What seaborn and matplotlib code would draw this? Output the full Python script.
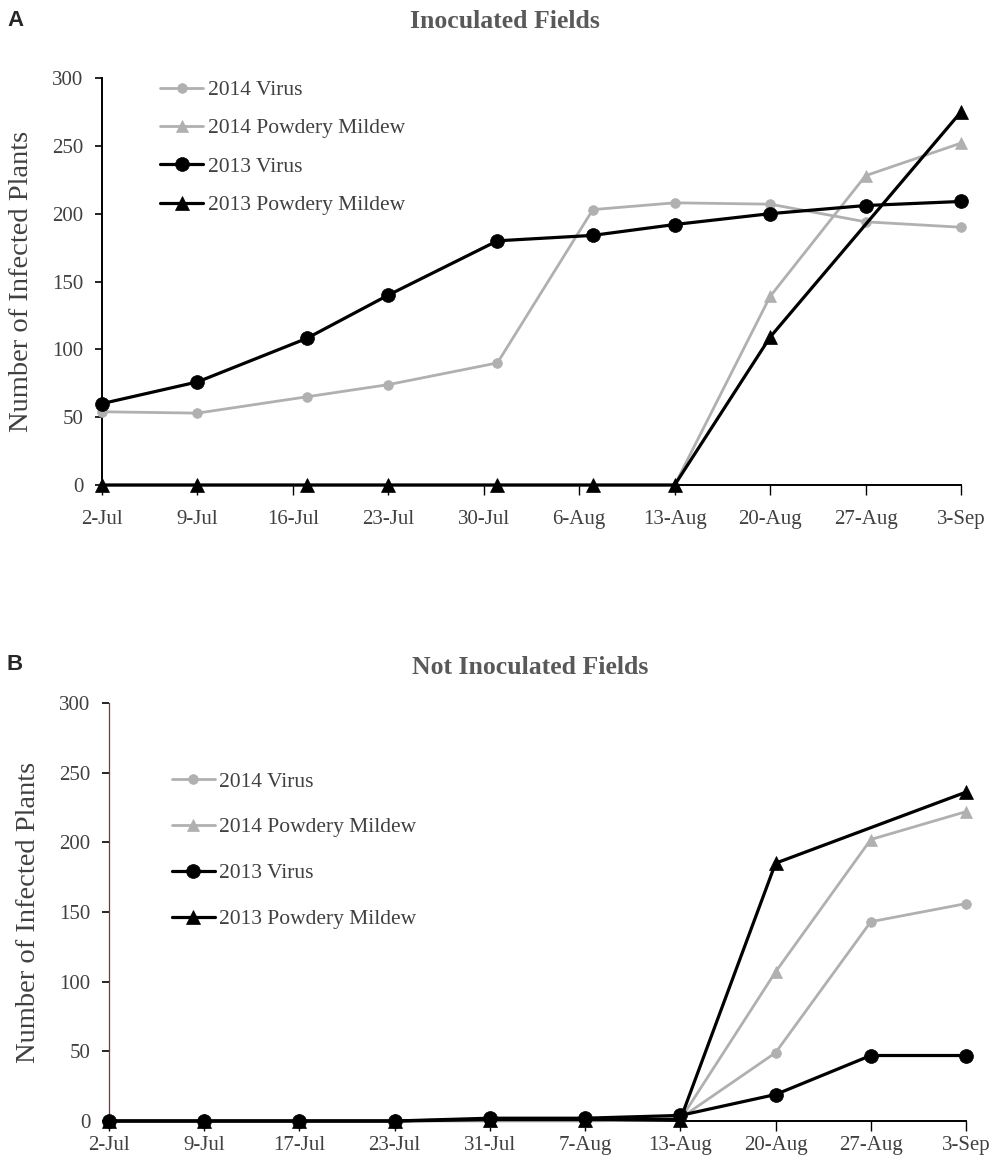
import numpy as np
import pandas as pd
import matplotlib
matplotlib.use("Agg")
import matplotlib.pyplot as plt
import seaborn as sns

# sampling dates (same for both years)
sample_dates = pd.to_datetime(["2013-07-02", "2013-07-09", "2013-07-17", "2013-07-23",
                               "2013-07-31", "2013-08-07", "2013-08-13", "2013-08-20",
                               "2013-08-27", "2013-09-03"])
date_labels_b = ["2-Jul", "9-Jul", "17-Jul", "23-Jul", "31-Jul",
                 "7-Aug", "13-Aug", "20-Aug", "27-Aug", "3-Sep"]

series_names = ["2014 Virus", "2014 Powdery Mildew", "2013 Virus", "2013 Powdery Mildew"]

# A: inoculated fields
inoc_2014_virus = [54, 53, 65, 74, 90, 203, 208, 207, 194, 190]
inoc_2014_pm = [0, 0, 0, 0, 0, 0, 0, 139, 228, 252]
inoc_2013_virus = [60, 76, 108, 140, 180, 184, 192, 200, 206, 209]
inoc_2013_pm = [0, 0, 0, 0, 0, 0, 0, 109, np.nan, 275]

# B: not inoculated fields
noninoc_2014_virus = [0, 0, 0, 0, 1, 1, 2, 49, 143, 156]
noninoc_2014_pm = [0, 0, 0, 0, 0, 0, 1, 107, 202, 222]
noninoc_2013_virus = [0, 0, 0, 0, 2, 2, 4, 19, 47, 47]
noninoc_2013_pm = [0, 0, 0, 0, 1, 1, 1, 185, np.nan, 236]

GRAY = "#b0b0b0"
TXT = "#404040"
styles = {
    "2014 Virus": dict(color=GRAY, marker="o", markersize=7, linewidth=2.0),
    "2014 Powdery Mildew": dict(color=GRAY, marker="^", markersize=9, linewidth=2.0),
    "2013 Virus": dict(color="black", marker="o", markersize=10, linewidth=2.3),
    "2013 Powdery Mildew": dict(color="black", marker="^", markersize=10, linewidth=2.3),
}

sns.set_style("white")
plt.rcParams["font.family"] = ["Liberation Serif", "DejaVu Serif"]


def draw_panel(ax, x, values):
    for name, vals in zip(series_names, values):
        df = pd.DataFrame({"x": x, "y": vals}).dropna()
        st = styles[name]
        sns.lineplot(data=df, x="x", y="y", ax=ax, label=name,
                     color=st["color"], marker=st["marker"],
                     markersize=st["markersize"], linewidth=st["linewidth"],
                     markeredgecolor=st["color"], markeredgewidth=0.5,
                     clip_on=False, zorder=3)
    ax.set_ylim(0, 300)
    ax.set_yticks(range(0, 301, 50))
    ax.set_xlabel("")
    ax.set_ylabel("Number of Infected Plants", fontsize=20.5, color=TXT)
    for s in ["top", "right"]:
        ax.spines[s].set_visible(False)
    ax.spines["bottom"].set_color("black")
    ax.spines["bottom"].set_linewidth(1.4)
    ax.tick_params(axis="y", direction="out", length=5, width=1.2, color="black",
                   labelsize=15, labelcolor=TXT, pad=8.5, left=True)
    ax.tick_params(axis="x", direction="out", width=1.0, color="black",
                   labelsize=15, labelcolor=TXT, bottom=True)


fig = plt.figure(figsize=(10, 11.71), dpi=100)

# ---- panel A ----
axA = fig.add_axes([0.102, 0.5858, 0.859, 0.3476])
draw_panel(axA, sample_dates,
           [inoc_2014_virus, inoc_2014_pm, inoc_2013_virus, inoc_2013_pm])
weekly = pd.date_range(sample_dates[0], sample_dates[-1], freq="7D")
axA.set_xlim(sample_dates[0], sample_dates[-1])
axA.set_xticks(weekly)
axA.set_xticklabels([f"{d.day}-{d.strftime('%b')}" for d in weekly])
axA.tick_params(axis="x", length=7, pad=11)
axA.spines["left"].set_color("black")
axA.spines["left"].set_linewidth(1.4)
axA.yaxis.set_label_coords(-0.079, 0.5)
axA.legend(loc="upper left", bbox_to_anchor=(0.068, 0.995), frameon=False,
           fontsize=15.5, labelcolor=TXT, handlelength=2.0, handletextpad=0.2,
           labelspacing=0.85, borderpad=0, borderaxespad=0)

# ---- panel B ----
axB = fig.add_axes([0.109, 0.0427, 0.857, 0.357])
xb = np.arange(len(date_labels_b))
draw_panel(axB, xb,
           [noninoc_2014_virus, noninoc_2014_pm, noninoc_2013_virus, noninoc_2013_pm])
axB.set_xlim(xb[0], xb[-1])
axB.set_xticks(xb)
axB.set_xticklabels(date_labels_b)
axB.tick_params(axis="x", length=7, pad=4)
axB.spines["left"].set_color("#8b3030")
axB.spines["left"].set_linewidth(0.9)
axB.yaxis.set_label_coords(-0.079, 0.5)
axB.legend(loc="upper left", bbox_to_anchor=(0.073, 0.836), frameon=False,
           fontsize=15.5, labelcolor=TXT, handlelength=2.0, handletextpad=0.2,
           labelspacing=1.2, borderpad=0, borderaxespad=0)

fig.text(0.505, 1 - 22 / 1171, "Inoculated Fields", ha="center", va="center",
         fontsize=18.5, fontweight="bold", color="#595959")
fig.text(0.530, 1 - 667 / 1171, "Not Inoculated Fields", ha="center", va="center",
         fontsize=18.5, fontweight="bold", color="#595959")
fig.text(0.007, 1 - 20 / 1171, "A", ha="left", va="center", fontsize=16,
         fontweight="bold", family=["Liberation Sans", "DejaVu Sans"])
fig.text(0.007, 1 - 665 / 1171, "B", ha="left", va="center", fontsize=16,
         fontweight="bold", family=["Liberation Sans", "DejaVu Sans"])

fig.savefig("out.png", dpi=100)
